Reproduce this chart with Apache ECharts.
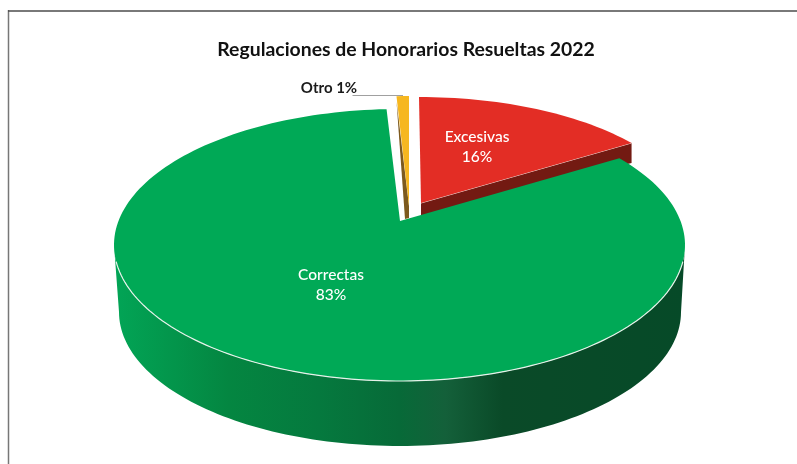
<!DOCTYPE html>
<html><head><meta charset="utf-8">
<style>html,body{margin:0;padding:0;background:#fff}#c{width:797px;height:464px}</style>
<script src="https://cdn.jsdelivr.net/npm/echarts@6/dist/echarts.min.js"></script>
</head><body><div id="c"></div>
<script>
const titleText = 'Regulaciones de Honorarios Resueltas 2022';
const categories = ['Excesivas', 'Correctas', 'Otro'];
const percentages = [16, 83, 1];
const sliceColors = ['#e32d25', '#00a956', '#f6b720'];
const sideColors = ['#731a12', '#06683a', '#7d5a1e'];

// Projection of the tilted pie: each slice's top ellipse, apex and depth.
const views = [
  {cx: 419, cy: 224, a: 276, b: 127, ax: 421, ay: 203, depth: 20},
  {cx: 399.5, cy: 245, a: 285.5, b: 136, ax: 400, ay: 221, depth: 13},
  {cx: 409, cy: 223, a: 276, b: 127, ax: 409, ay: 206, depth: 13}
];
const warp = 8; // perspective foreshortening, degrees
const view = t => t - warp * Math.sin(2 * t * Math.PI / 180);
const pt = (v, deg) => {
  const r = deg * Math.PI / 180;
  return [v.cx + v.a * Math.sin(r), v.cy - v.b * Math.cos(r)];
};
const arc = (v, from, to) => {
  const n = Math.max(2, Math.ceil(Math.abs(to - from) / 1.5));
  const out = [];
  for (let i = 0; i <= n; i++) out.push(pt(v, from + (to - from) * i / n));
  return out;
};
const floor = {cx: 400, cy: 312, a: 281, b: 134};
const sideGradient = {
  type: 'linear', x: 114, y: 0, x2: 685, y2: 0, global: true,
  colorStops: [
    {offset: 0, color: '#02a556'}, {offset: 0.2, color: '#048641'},
    {offset: 0.36, color: '#05793e'}, {offset: 0.5, color: '#076a38'},
    {offset: 0.58, color: '#14603a'}, {offset: 0.68, color: '#0a4a28'},
    {offset: 1, color: '#064a28'}
  ]
};
const labelPos = [[477, 147], [331, 285]];

const total = percentages.reduce((s, x) => s + x, 0);
function renderItem(params, api) {
  const i = params.dataIndex;
  let before = 0;
  for (let k = 0; k < i; k++) before += percentages[k];
  const from = view(before / total * 360);
  const to = view((before + api.value(0)) / total * 360);
  const v = views[i];
  const children = [];
  const apex = [v.ax, v.ay];
  const poly = (points, fill) => ({type: 'polygon', shape: {points}, style: {fill}});
  if (i === 0) {
    const e = pt(v, to);
    children.push(poly([apex, e, [e[0], e[1] + v.depth], [apex[0], apex[1] + 13]], sideColors[0]));
    children.push({type: 'polyline', shape: {points: [apex, e]}, style: {stroke: '#f0dcd8', lineWidth: 1, fill: null}});
  }
  if (i === 2) {
    const s = pt(v, from);
    children.push(poly([[s[0], s[1] + 5], [405, 219], [409, 218], apex], sideColors[2]));
  }
  if (i === 1) {
    const front = arc(v, 90, 270);
    const bottom = arc(floor, 270, 90);
    children.push(poly(front.concat(bottom), sideGradient));
  }
  children.push(poly([apex].concat(arc(v, from, to)), sliceColors[i]));
  if (i === 1) {
    children.push({type: 'polyline', shape: {points: arc(v, 97, 263)},
      style: {stroke: '#e6f2ea', lineWidth: 1.2, fill: null}});
  }
  if (labelPos[i]) {
    children.push({type: 'text', x: labelPos[i][0], y: labelPos[i][1], z2: 10, style: {
      text: categories[i] + '\n' + api.value(0) + '%', fill: '#fff', align: 'center',
      verticalAlign: 'middle', font: '500 15.5px Lato', lineHeight: 20}});
  } else {
    children.push({type: 'polyline', shape: {points: [[352.5, 95.5], [403, 95.5]]},
      style: {stroke: '#a0a0a0', lineWidth: 1, fill: null}});
    children.push({type: 'text', x: 329, y: 88, z2: 10, style: {
      text: categories[i] + ' ' + api.value(0) + '%', fill: '#1a1a1a', align: 'center',
      verticalAlign: 'middle', font: 'bold 15px Lato'}});
  }
  return {type: 'group', children};
}

const chart = echarts.init(document.getElementById('c'), null, {renderer: 'canvas'});
chart.setOption({
  animation: false,
  backgroundColor: '#fff',
  graphic: [
    {type: 'line', silent: true, shape: {x1: 8.5, y1: 10, x2: 8.5, y2: 464}, style: {stroke: '#777', lineWidth: 1.5}},
    {type: 'line', silent: true, shape: {x1: 8, y1: 11, x2: 797, y2: 11}, style: {stroke: '#4c4c4c', lineWidth: 1.5}},
    {type: 'text', silent: true, x: 406, y: 50, style: {text: titleText, align: 'center', verticalAlign: 'middle',
      font: 'bold 19.4px Lato', fill: '#111'}}
  ],
  series: [{
    type: 'custom', coordinateSystem: 'none', silent: true,
    renderItem,
    data: percentages.map((value, i) => ({name: categories[i], value}))
  }]
});
</script></body></html>
